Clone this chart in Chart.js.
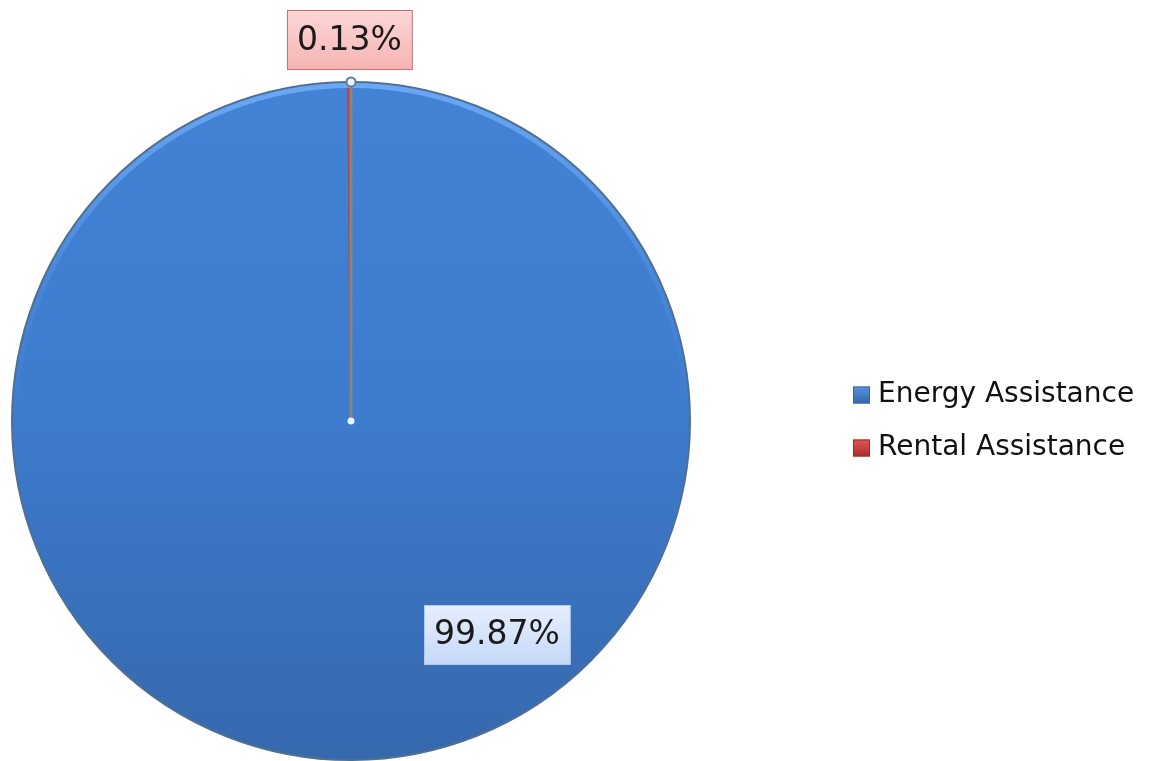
<!DOCTYPE html>
<html>
<head>
<meta charset="utf-8">
<title>Assistance</title>
<script src="https://cdn.jsdelivr.net/npm/chart.js@4.4.0/dist/chart.umd.min.js"></script>
<style>
  html, body { margin: 0; padding: 0; background: #fff; }
  #wrap { width: 1153px; height: 761px; position: relative; }
</style>
</head>
<body>
<div id="wrap"><canvas id="grafico"></canvas></div>
<script>
const categorias = ['Energy Assistance', 'Rental Assistance'];
const porcentajes = [99.87, 0.13];

// value boxes, rim highlight and leader line drawn on top of the pie
const etiquetasPlugin = {
   id: 'etiquetas',
   afterDatasetsDraw(chart, args, opts) {
      const ctx = chart.ctx;
      const arcs = chart.getDatasetMeta(0).data;
      const grande = arcs[0].getProps(['x', 'y', 'outerRadius'], true);

      // soft light band just inside the upper rim
      ctx.save();
      const brillo = ctx.createLinearGradient(0, grande.y - grande.outerRadius, 0, grande.y);
      brillo.addColorStop(0, 'rgba(120, 180, 255, 0.75)');
      brillo.addColorStop(0.6, 'rgba(120, 180, 255, 0.15)');
      brillo.addColorStop(1, 'rgba(120, 180, 255, 0)');
      ctx.strokeStyle = brillo;
      ctx.lineWidth = 5;
      ctx.beginPath();
      ctx.arc(grande.x, grande.y, grande.outerRadius - 3.5, Math.PI, Math.PI * 2);
      ctx.stroke();
      ctx.restore();

      // leader line of the small slice, from its edge to the centre
      const chica = arcs[1].getProps(['x', 'y', 'outerRadius', 'endAngle'], true);
      const bordeX = chica.x + Math.cos(chica.endAngle) * chica.outerRadius;
      const bordeY = chica.y + Math.sin(chica.endAngle) * chica.outerRadius;
      ctx.save();
      ctx.strokeStyle = '#858585';
      ctx.lineWidth = 3;
      ctx.beginPath();
      ctx.moveTo(bordeX, bordeY);
      ctx.lineTo(chica.x, chica.y);
      ctx.stroke();
      ctx.beginPath();
      ctx.arc(bordeX, bordeY, 4.5, 0, Math.PI * 2);
      ctx.fillStyle = '#eef4fb';
      ctx.fill();
      ctx.lineWidth = 2;
      ctx.strokeStyle = '#5f7f9c';
      ctx.stroke();
      ctx.beginPath();
      ctx.arc(chica.x, chica.y, 3.5, 0, Math.PI * 2);
      ctx.fillStyle = '#e8f3ff';
      ctx.fill();
      ctx.restore();

      arcs.forEach((arc, i) => {
         const p = arc.getProps(['x', 'y', 'outerRadius', 'startAngle', 'endAngle'], true);
         const pos = opts.posiciones[i];
         const ang = pos.angulo !== null ? pos.angulo * Math.PI / 180 : (p.startAngle + p.endAngle) / 2;
         const cx = p.x + Math.cos(ang) * p.outerRadius * pos.distancia;
         const cy = p.y + Math.sin(ang) * p.outerRadius * pos.distancia;
         const texto = `${porcentajes[i].toFixed(2)}%`;

         ctx.save();
         ctx.font = `${opts.tamano}px "DejaVu Sans"`;
         const ancho = ctx.measureText(texto).width + opts.padX * 2;
         const alto = opts.tamano + opts.padY * 2;
         const x0 = Math.round(cx - ancho / 2) + 0.5;
         const y0 = Math.round(cy - alto / 2) + 0.5;
         const grad = ctx.createLinearGradient(0, y0, 0, y0 + alto);
         grad.addColorStop(0, opts.fondos[i][0]);
         grad.addColorStop(1, opts.fondos[i][1]);
         ctx.fillStyle = grad;
         ctx.fillRect(x0, y0, ancho, alto);
         ctx.strokeStyle = opts.bordes[i];
         ctx.lineWidth = 1;
         ctx.strokeRect(x0, y0, ancho, alto);
         ctx.fillStyle = '#1a1a1a';
         ctx.textAlign = 'center';
         ctx.textBaseline = 'middle';
         ctx.fillText(texto, cx, cy + 1);
         ctx.restore();
      });
   }
};

// legend on the right, one row per category
const leyendaPlugin = {
   id: 'leyenda',
   afterDraw(chart, args, opts) {
      const ctx = chart.ctx;
      ctx.save();
      ctx.font = `${opts.tamano}px "DejaVu Sans"`;
      ctx.textBaseline = 'middle';
      ctx.textAlign = 'left';
      chart.data.labels.forEach((texto, i) => {
         const y = opts.y + i * opts.fila;
         const g = ctx.createLinearGradient(0, y - opts.caja / 2, 0, y + opts.caja / 2);
         g.addColorStop(0, opts.colores[i][0]);
         g.addColorStop(1, opts.colores[i][1]);
         ctx.fillStyle = g;
         ctx.fillRect(opts.x, y - opts.caja / 2, opts.caja, opts.caja);
         ctx.strokeStyle = opts.colores[i][2];
         ctx.lineWidth = 1;
         ctx.strokeRect(opts.x + 0.5, y - opts.caja / 2 + 0.5, opts.caja - 1, opts.caja - 1);
         ctx.fillStyle = '#111';
         ctx.fillText(texto, opts.x + opts.caja + opts.separacion, y);
      });
      ctx.restore();
   }
};

function colorEnergia(c) {
   const area = c.chart.chartArea;
   if (!area) return '#3d7bcd';
   const g = c.chart.ctx.createLinearGradient(0, area.top, 0, area.bottom);
   g.addColorStop(0, '#4283d6');
   g.addColorStop(0.5, '#3d7bcd');
   g.addColorStop(1, '#3668ad');
   return g;
}

new Chart(document.getElementById('grafico'), {
   type: 'pie',
   data: {
      labels: categorias,
      datasets: [{
         data: porcentajes,
         backgroundColor: c => c.dataIndex === 1 ? '#c4403d' : colorEnergia(c),
         borderColor: ['#4f6f93', '#c4403d'],
         borderWidth: 2,
         hoverOffset: 0
      }]
   },
   options: {
      responsive: true,
      maintainAspectRatio: false,
      animation: false,
      layout: { padding: { left: 11, right: 462, top: 81, bottom: 0 } },
      plugins: {
         legend: { display: false },
         tooltip: { enabled: false },
         leyenda: {
            x: 853,
            y: 395,
            fila: 53,
            caja: 17,
            separacion: 8,
            tamano: 28,
            colores: [['#5d93dc', '#3566b0', '#3a64a0'], ['#dc5a55', '#b02a28', '#9e2b28']]
         },
         etiquetas: {
            tamano: 33,
            padX: 10,
            padY: 13,
            posiciones: [
               { angulo: 55.6, distancia: 0.762 },
               { angulo: null, distancia: 1.124 }
            ],
            fondos: [['#e6eefd', '#c6d9f7'], ['#fcd6d6', '#f6b4b4']],
            bordes: ['#b4c9ea', '#c77272']
         }
      }
   },
   plugins: [etiquetasPlugin, leyendaPlugin]
});
</script>
</body>
</html>
